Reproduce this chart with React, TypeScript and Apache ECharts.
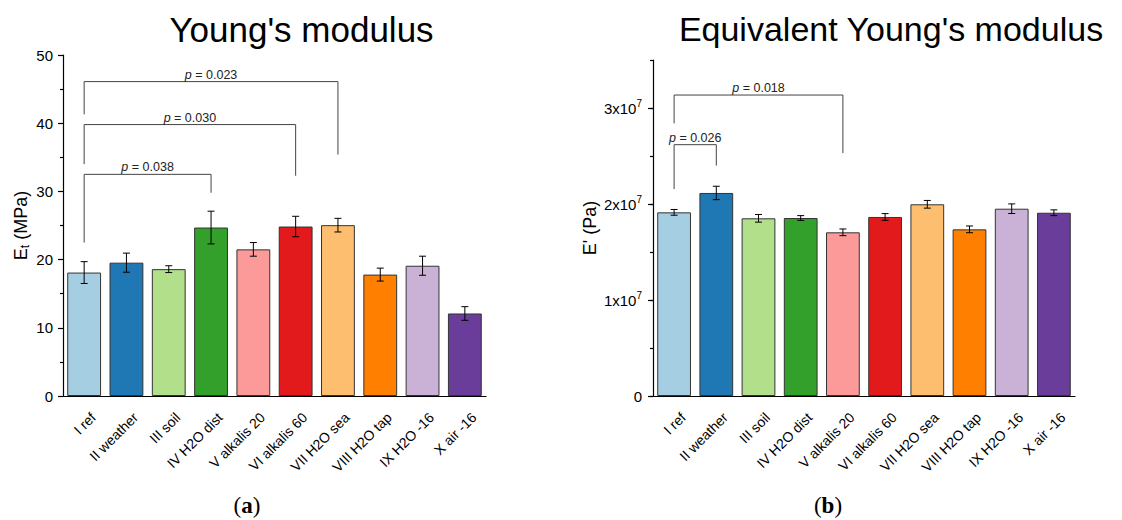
import React, { useEffect, useRef } from "react";
import * as echarts from "echarts";

const categories = [
  "I ref",
  "II weather",
  "III soil",
  "IV H2O dist",
  "V alkalis 20",
  "VI alkalis 60",
  "VII H2O sea",
  "VIII H2O tap",
  "IX H2O -16",
  "X air -16",
];

const barColors = [
  "#a6cee3",
  "#1f78b4",
  "#b2df8a",
  "#33a02c",
  "#fb9a99",
  "#e31a1c",
  "#fdbf6f",
  "#ff7f00",
  "#cab2d6",
  "#6a3d9a",
];

// Young's modulus (MPa)
const youngMean = [18.1, 19.55, 18.6, 24.7, 21.5, 24.85, 25.05, 17.8, 19.1, 12.1];
const youngErr = [1.6, 1.4, 0.5, 2.4, 1.0, 1.5, 1.0, 0.95, 1.4, 1.0];

// Equivalent Young's modulus (Pa)
const eqMean = [1.913e7, 2.115e7, 1.851e7, 1.854e7, 1.705e7, 1.865e7, 1.997e7, 1.736e7, 1.951e7, 1.909e7];
const eqErr = [0.03e7, 0.07e7, 0.04e7, 0.025e7, 0.035e7, 0.035e7, 0.04e7, 0.035e7, 0.05e7, 0.03e7];

// brackets: [fromIndex, toIndex, topValue, leftLegBottom, rightLegBottom]
const youngBrackets = [
  [0, 3, 32.5, 22.5, 29.8],
  [0, 5, 39.8, 34.0, 32.3],
  [0, 6, 46.1, 41.3, 35.4],
];
const youngBracketLabels = ["0.038", "0.030", "0.023"];

const eqBrackets = [
  [0, 1, 2.618e7, 2.156e7, 2.4e7],
  [0, 4, 3.135e7, 2.84e7, 2.53e7],
];
const eqBracketLabels = ["0.026", "0.018"];

const youngTicks = { min: 0, max: 50, interval: 10 };
const eqTicks = { min: 0, max: 3.5e7, labelMax: 3e7, interval: 1e7, minorInterval: 0.5e7 };

const FONT = "Liberation Sans";

function errorBarSeries(xAxisIndex: number, yAxisIndex: number, mean: number[], err: number[]) {
  return {
    type: "custom",
    xAxisIndex,
    yAxisIndex,
    z: 10,
    clip: false,
    encode: { x: 0, y: [1, 2] },
    data: mean.map((m, i) => [i, m, err[i]]),
    renderItem: (params: any, api: any) => {
      const x = api.value(0);
      const m = api.value(1);
      const e = api.value(2);
      const top = api.coord([x, m + e]);
      const bot = api.coord([x, m - e]);
      const hw = 3.5;
      const st = { stroke: "#000", lineWidth: 1 };
      return {
        type: "group",
        children: [
          { type: "line", shape: { x1: top[0], y1: top[1], x2: bot[0], y2: bot[1] }, style: st },
          { type: "line", shape: { x1: top[0] - hw, y1: top[1], x2: top[0] + hw, y2: top[1] }, style: st },
          { type: "line", shape: { x1: bot[0] - hw, y1: bot[1], x2: bot[0] + hw, y2: bot[1] }, style: st },
        ],
      };
    },
  };
}

function bracketSeries(xAxisIndex: number, yAxisIndex: number, rows: number[][], labels: string[]) {
  return {
    type: "custom",
    xAxisIndex,
    yAxisIndex,
    z: 10,
    clip: false,
    encode: { x: [0, 1], y: [2, 3, 4] },
    data: rows,
    renderItem: (params: any, api: any) => {
      const f = api.value(0);
      const t = api.value(1);
      const top = api.value(2);
      const lb = api.value(3);
      const rb = api.value(4);
      const p1 = api.coord([f, lb]);
      const p2 = api.coord([f, top]);
      const p3 = api.coord([t, top]);
      const p4 = api.coord([t, rb]);
      return {
        type: "group",
        children: [
          {
            type: "polyline",
            shape: { points: [p1, p2, p3, p4] },
            style: { stroke: "#444", lineWidth: 1, fill: null },
          },
          {
            type: "text",
            x: (p2[0] + p3[0]) / 2,
            y: p2[1] - 7,
            style: {
              text: "{i|p} = " + labels[params.dataIndex],
              fontSize: 12.5,
              fontFamily: FONT,
              fill: "#222",
              align: "center",
              verticalAlign: "middle",
              rich: { i: { fontStyle: "italic", fontSize: 12.5, fontFamily: FONT, fill: "#222" } },
            },
          },
        ],
      };
    },
  };
}

// rotated category labels drawn at the category axis positions
function categoryLabelSeries(xAxisIndex: number, yAxisIndex: number, base: number) {
  return {
    type: "custom",
    xAxisIndex,
    yAxisIndex,
    z: 10,
    clip: false,
    silent: true,
    encode: { x: 0, y: 1 },
    data: categories.map((c, i) => [i, base]),
    renderItem: (params: any, api: any) => {
      const p = api.coord([api.value(0), api.value(1)]);
      return {
        type: "text",
        x: p[0] + 9,
        y: p[1] + 19,
        rotation: Math.PI / 4,
        style: {
          text: categories[params.dataIndex],
          fontSize: 14,
          fontFamily: FONT,
          fill: "#000",
          align: "right",
          verticalAlign: "middle",
        },
      };
    },
  };
}

function xAxes(gridIndex: number) {
  return [
    {
      type: "category",
      gridIndex,
      data: categories,
      position: "bottom",
      axisLine: { lineStyle: { color: "#000", width: 1.2 } },
      axisTick: { alignWithLabel: true, length: 6, lineStyle: { color: "#000", width: 1.2 } },
      axisLabel: { show: false },
      splitLine: { show: false },
    },
    {
      type: "category",
      gridIndex,
      data: categories,
      position: "bottom",
      axisLine: { show: false },
      axisTick: { alignWithLabel: false, length: 3, interval: 0, lineStyle: { color: "#000", width: 1.2 } },
      axisLabel: { show: false },
      splitLine: { show: false },
    },
  ];
}

const RIGHT_TOP = 60;
const RIGHT_H = 336;

export default function App() {
  const ref = useRef<HTMLDivElement>(null);
  useEffect(() => {
    if (!ref.current) return;
    const chart = echarts.init(ref.current, null, { renderer: "svg" });
    const barSeries = (xAxisIndex: number, yAxisIndex: number, vals: number[]) => ({
      type: "bar",
      xAxisIndex,
      yAxisIndex,
      barCategoryGap: "20%",
      data: vals.map((v, i) => ({
        value: v,
        itemStyle: { color: barColors[i], borderColor: "#333", borderWidth: 1 },
      })),
    });
    const labelGridTop = RIGHT_TOP + (RIGHT_H * (eqTicks.max - eqTicks.labelMax)) / (eqTicks.max - eqTicks.min);
    const labelGridH = (RIGHT_H * (eqTicks.labelMax - eqTicks.min)) / (eqTicks.max - eqTicks.min);
    chart.setOption({
      animation: false,
      backgroundColor: "#fff",
      grid: [
        { left: 63, top: 55, width: 423, height: 341 },
        { left: 653, top: RIGHT_TOP, width: 422, height: RIGHT_H },
        { left: 653, top: labelGridTop, width: 422, height: labelGridH },
      ],
      xAxis: [
        ...xAxes(0),
        ...xAxes(1),
        { type: "value", gridIndex: 2, show: false, min: 0, max: 1 },
      ],
      yAxis: [
        {
          type: "value",
          gridIndex: 0,
          min: youngTicks.min,
          max: youngTicks.max,
          interval: youngTicks.interval,
          name: "E{sub|t} (MPa)",
          nameLocation: "middle",
          nameRotate: 90,
          nameGap: 32,
          nameTextStyle: {
            fontSize: 18,
            fontFamily: FONT,
            color: "#000",
            rich: { sub: { fontSize: 12, fontFamily: FONT, color: "#000", padding: [8, 0, 0, 0] } },
          },
          axisLine: { show: true, lineStyle: { color: "#000", width: 1.2 } },
          axisTick: { show: true, length: 5, lineStyle: { color: "#000", width: 1.2 } },
          minorTick: { show: true, splitNumber: 2, length: 3, lineStyle: { color: "#000", width: 1.2 } },
          axisLabel: { fontSize: 15, fontFamily: FONT, color: "#000", margin: 10 },
          splitLine: { show: false },
        },
        {
          // data axis of the right panel: line + short (half-step) ticks
          type: "value",
          gridIndex: 1,
          min: eqTicks.min,
          max: eqTicks.max,
          interval: eqTicks.minorInterval,
          name: "E' (Pa)",
          nameLocation: "middle",
          nameRotate: 90,
          nameGap: 54,
          nameTextStyle: { fontSize: 18, fontFamily: FONT, color: "#000" },
          axisLine: { show: true, lineStyle: { color: "#000", width: 1.2 } },
          axisTick: { show: true, length: 3, lineStyle: { color: "#000", width: 1.2 } },
          axisLabel: { show: false },
          splitLine: { show: false },
        },
        {
          // labelled major ticks of the right panel (same scale, 0 .. 3x10^7)
          type: "value",
          gridIndex: 2,
          min: eqTicks.min,
          max: eqTicks.labelMax,
          interval: eqTicks.interval,
          axisLine: { show: false },
          axisTick: { show: true, length: 5, lineStyle: { color: "#000", width: 1.2 } },
          axisLabel: {
            fontSize: 15,
            fontFamily: FONT,
            color: "#000",
            margin: 11,
            formatter: (v: number) => {
              if (v === 0) return "0";
              return Math.round(v / 1e7) + "x10{sup|7}";
            },
            rich: { sup: { fontSize: 10, fontFamily: FONT, color: "#000", padding: [0, 0, 9, 0] } },
          },
          splitLine: { show: false },
        },
      ],
      series: [
        barSeries(0, 0, youngMean),
        errorBarSeries(0, 0, youngMean, youngErr),
        bracketSeries(0, 0, youngBrackets, youngBracketLabels),
        categoryLabelSeries(0, 0, youngTicks.min),
        barSeries(2, 1, eqMean),
        errorBarSeries(2, 1, eqMean, eqErr),
        bracketSeries(2, 1, eqBrackets, eqBracketLabels),
        categoryLabelSeries(2, 1, eqTicks.min),
      ],
      graphic: [
        {
          type: "text",
          x: 301.5,
          y: 29,
          style: {
            text: "Young's modulus",
            fontSize: 35,
            fontFamily: FONT,
            fill: "#000",
            align: "center",
            verticalAlign: "middle",
          },
        },
        {
          type: "text",
          x: 891,
          y: 29,
          style: {
            text: "Equivalent Young's modulus",
            fontSize: 34,
            fontFamily: FONT,
            fill: "#000",
            align: "center",
            verticalAlign: "middle",
          },
        },
        {
          type: "text",
          x: 247,
          y: 505,
          style: {
            text: "({b|a})",
            fontSize: 23,
            fontFamily: "Liberation Serif",
            fill: "#000",
            align: "center",
            verticalAlign: "middle",
            rich: { b: { fontWeight: "bold", fontSize: 23, fontFamily: "Liberation Serif", fill: "#000" } },
          },
        },
        {
          type: "text",
          x: 828,
          y: 505,
          style: {
            text: "({b|b})",
            fontSize: 23,
            fontFamily: "Liberation Serif",
            fill: "#000",
            align: "center",
            verticalAlign: "middle",
            rich: { b: { fontWeight: "bold", fontSize: 23, fontFamily: "Liberation Serif", fill: "#000" } },
          },
        },
      ],
    });
    return () => chart.dispose();
  }, []);
  return (
    <div
      ref={ref}
      style={{ position: "fixed", left: 0, top: 0, width: 1122, height: 520, background: "#fff" }}
    />
  );
}
